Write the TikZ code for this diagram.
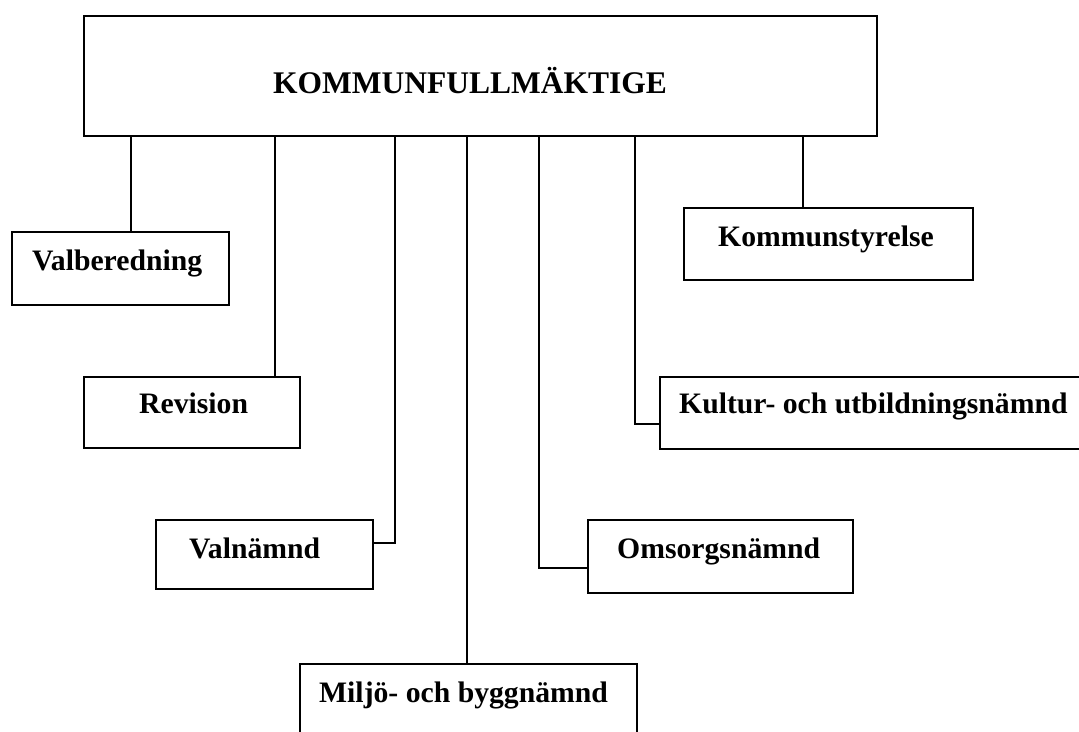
\documentclass[tikz,border=0pt]{standalone}
\usepackage{fontspec}
\setmainfont{Liberation Serif}
\begin{document}
\begin{tikzpicture}[x=1pt,y=-1pt,
  box/.style={draw, line width=1.8pt, rectangle, inner sep=0pt, anchor=north west},
  lbl/.style={anchor=base west, inner sep=0pt, font=\bfseries\fontsize{29.7}{36}\selectfont},
  conn/.style={line width=1.8pt}]
\useasboundingbox (0,0) rectangle (1079,731);
\clip (0,0) rectangle (1079,731);
% boxes
\node[box, minimum width=793pt, minimum height=120pt] (top) at (83,15) {};
\node[box, minimum width=217pt, minimum height=73pt] (valb) at (11,231) {};
\node[box, minimum width=216pt, minimum height=71pt] (rev) at (83,376) {};
\node[box, minimum width=217pt, minimum height=69pt] (valn) at (155,519) {};
\node[box, minimum width=337pt, minimum height=100pt] (milj) at (299,663) {};
\node[box, minimum width=265pt, minimum height=73pt] (oms) at (587,519) {};
\node[box, minimum width=460pt, minimum height=72pt] (kult) at (659,376) {};
\node[box, minimum width=289pt, minimum height=72pt] (ks) at (683,207) {};
% texts
\node[lbl, font=\bfseries\fontsize{31.5}{36}\selectfont] (ttop) at (273,93) {KOMMUNFULLMÄKTIGE};
\node[lbl] (tvalb) at (32,270) {Valberedning};
\node[lbl] (trev) at (139,413) {Revision};
\node[lbl] (tvaln) at (189,558) {Valnämnd};
\node[lbl] (tmilj) at (319,702) {Miljö- och byggnämnd};
\node[lbl] (toms) at (617,558) {Omsorgsnämnd};
\node[lbl] (tkult) at (679,413) {Kultur- och utbildningsnämnd};
\node[lbl] (tks) at (718,246) {Kommunstyrelse};
% connector helper coordinates
\coordinate (c1) at (131,0);
\coordinate (c2) at (275,0);
\coordinate (e3) at (395,543);
\coordinate (c4) at (467,0);
\coordinate (e5) at (539,568);
\coordinate (e6) at (635,424);
\coordinate (c7) at (803,0);
% connectors
\draw[conn] (top.south -| c1) -- (valb.north -| c1);
\draw[conn] (top.south -| c2) -- (rev.north -| c2);
\draw[conn] (top.south -| e3) -- (e3) -- (valn.east |- e3);
\draw[conn] (top.south -| c4) -- (milj.north -| c4);
\draw[conn] (top.south -| e5) -- (e5) -- (oms.west |- e5);
\draw[conn] (top.south -| e6) -- (e6) -- (kult.west |- e6);
\draw[conn] (top.south -| c7) -- (ks.north -| c7);
\end{tikzpicture}
\end{document}
